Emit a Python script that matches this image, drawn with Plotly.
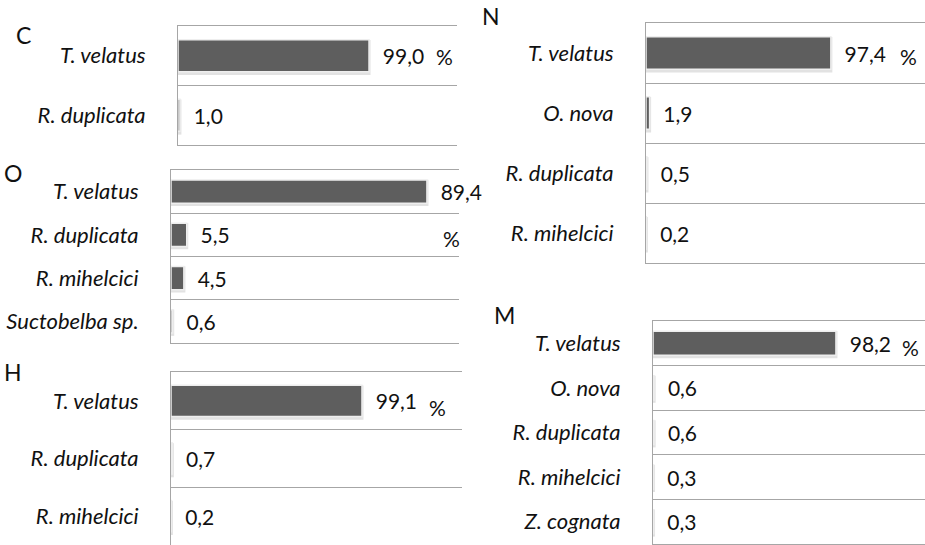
import plotly.graph_objects as go

# ---- data ----
C_species = ["T. velatus", "R. duplicata"]
C_values = [99.0, 1.0]

O_species = ["T. velatus", "R. duplicata", "R. mihelcici", "Suctobelba sp."]
O_values = [89.4, 5.5, 4.5, 0.6]

H_species = ["T. velatus", "R. duplicata", "R. mihelcici"]
H_values = [99.1, 0.7, 0.2]

N_species = ["T. velatus", "O. nova", "R. duplicata", "R. mihelcici"]
N_values = [97.4, 1.9, 0.5, 0.2]

M_species = ["T. velatus", "O. nova", "R. duplicata", "R. mihelcici", "Z. cognata"]
M_values = [98.2, 0.6, 0.6, 0.3, 0.3]

W, H = 925, 545
FONT = "Lato"
BAR = "#5e5e5e"
GRID = "#a6a6a6"
TXT = "#111111"

# panel layout: name, species, values, (left, right, top, bottom) px, x max, letter pos, % pos
panels = [
    ("C", C_species, C_values, (178, 457, 26, 145), 144.6, (23, 35), (444, 57)),
    ("O", O_species, O_values, (171, 459, 170, 343), 100.6, (13, 173), (451, 238)),
    ("H", H_species, H_values, (171, 462, 372, 545), 151.0, (13, 372), (437, 407)),
    ("N", N_species, N_values, (646, 925, 23, 263), 147.0, (491, 16), (908, 57)),
    ("M", M_species, M_values, (653, 925, 321, 544), 146.0, (504, 315), (910, 347)),
]

fig = go.Figure()
annotations = []
for i, (name, cats, vals, (l, r, t, b), xmax, lpos, ppos) in enumerate(panels):
    k = "" if i == 0 else str(i + 1)
    # soft shadow under each bar
    fig.add_trace(go.Bar(
        x=vals, y=cats, orientation="h",
        xaxis="x" + k, yaxis="y" + k,
        width=0.54, offset=-0.24,
        marker=dict(color="#d4d4d4", line=dict(color="#e2e2e2", width=3)),
        showlegend=False, hoverinfo="skip",
    ))
    fig.add_trace(go.Bar(
        x=vals, y=cats, orientation="h",
        xaxis="x" + k, yaxis="y" + k,
        width=0.54,
        marker=dict(color=BAR, line=dict(color="#eeeeee", width=1.5)),
        text=["\u00a0\u00a0" + f"{v:.1f}".replace(".", ",") for v in vals],
        textposition="outside", cliponaxis=False, constraintext="none",
        textfont=dict(family=FONT, size=21, color=TXT),
        showlegend=False, hoverinfo="skip",
    ))
    fig.layout["xaxis" + k] = dict(
        domain=[max(0, l / W), min(1, r / W)], anchor="y" + k, range=[0, xmax],
        showgrid=False, zeroline=False, showticklabels=False, ticks="",
        showline=True, mirror=True, linecolor=GRID, linewidth=1,
        fixedrange=True,
    )
    fig.layout["yaxis" + k] = dict(
        domain=[max(0, 1 - b / H), min(1, 1 - t / H)], anchor="x" + k,
        type="category", autorange="reversed",
        tickson="boundaries", showgrid=True, gridcolor=GRID, gridwidth=1,
        ticks="", ticklabelstandoff=27,
        showline=True, linecolor=GRID, linewidth=1,
        tickfont=dict(family=FONT, size=22, color=TXT, style="italic"),
        fixedrange=True,
    )
    annotations.append(dict(
        text=name, x=lpos[0] / W, y=1 - lpos[1] / H, xref="paper", yref="paper",
        showarrow=False, xanchor="center", yanchor="middle",
        font=dict(family=FONT, size=23, color=TXT),
    ))
    annotations.append(dict(
        text="%", x=ppos[0] / W, y=1 - ppos[1] / H, xref="paper", yref="paper",
        showarrow=False, xanchor="center", yanchor="middle",
        font=dict(family=FONT, size=21, color=TXT),
    ))

fig.update_layout(
    width=W, height=H,
    margin=dict(l=0, r=0, t=0, b=0),
    paper_bgcolor="white", plot_bgcolor="white",
    barmode="overlay",
    annotations=annotations,
)

fig.write_html(
    "out.html",
    config={"displayModeBar": False},
    post_script="document.body.style.margin='0';document.body.style.overflow='hidden';",
)
